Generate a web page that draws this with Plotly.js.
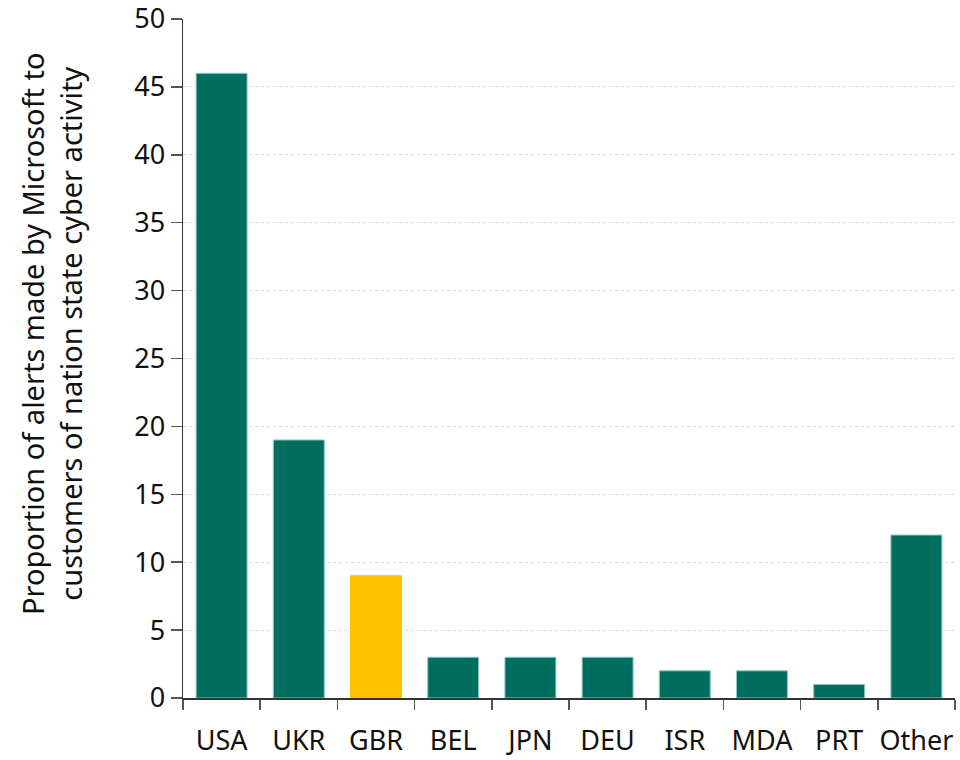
<!DOCTYPE html>
<html>
<head>
<meta charset="utf-8">
<script src="https://cdn.plot.ly/plotly-3.0.1.min.js"></script>
<style>html,body{margin:0;padding:0;background:#fff;}#chart{width:960px;height:760px;}</style>
</head>
<body>
<div id="chart"></div>
<script>
const categories = ["USA", "UKR", "GBR", "BEL", "JPN", "DEU", "ISR", "MDA", "PRT", "Other"];
const values = [46, 19, 9, 3, 3, 3, 2, 2, 1, 12];
const highlight = "GBR";
const yTicks = [0, 5, 10, 15, 20, 25, 30, 35, 40, 45, 50];
const yTitle = "Proportion of alerts made by Microsoft to<br>customers of nation state cyber activity";

const teal = "#006E5F";
const yellow = "#FFC000";
const colors = categories.map(c => c === highlight ? yellow : teal);
const lineColors = categories.map(c => c === highlight ? yellow : "#8fc9bf");

const font = "'Noto Sans', 'Open Sans', sans-serif";

Plotly.newPlot("chart", [{
  type: "bar",
  x: categories,
  y: values,
  marker: {color: colors, line: {color: lineColors, width: 1}},
  hoverinfo: "x+y"
}], {
  width: 960, height: 760,
  margin: {l: 183, r: 5, t: 19, b: 62},
  bargap: 0.34,
  paper_bgcolor: "#fff", plot_bgcolor: "#fff",
  showlegend: false,
  font: {family: font, size: 26, color: "#111"},
  xaxis: {
    type: "category",
    tickson: "boundaries",
    tickangle: 0,
    ticks: "outside", ticklen: 10, tickcolor: "#555", tickwidth: 1.5,
    showline: true, linecolor: "#333", linewidth: 1.5,
    showgrid: false,
    automargin: false,
    ticklabelstandoff: 18,
    ticklabeloverflow: "allow",
    tickfont: {family: font, size: 27, color: "#111"},
    range: [-0.5, 9.5]
  },
  yaxis: {
    range: [0, 50],
    tickvals: yTicks,
    ticks: "outside", ticklen: 11, tickcolor: "#555", tickwidth: 1.5,
    showline: true, linecolor: "#333", linewidth: 1.5,
    showgrid: true, gridcolor: "#d9d9d9", griddash: "dot", gridwidth: 1,
    zeroline: false,
    automargin: false,
    ticklabeloverflow: "allow",
    tickfont: {family: font, size: 27, color: "#111"}
  },
  annotations: [{
    text: yTitle,
    xref: "paper", yref: "paper",
    x: (51 - 183) / 772, y: (698 - 334) / 679,
    xanchor: "center", yanchor: "middle",
    textangle: -90, showarrow: false,
    font: {family: font, size: 29, color: "#111"}
  }]
}, {displayModeBar: false, staticPlot: true});
</script>
</body>
</html>
